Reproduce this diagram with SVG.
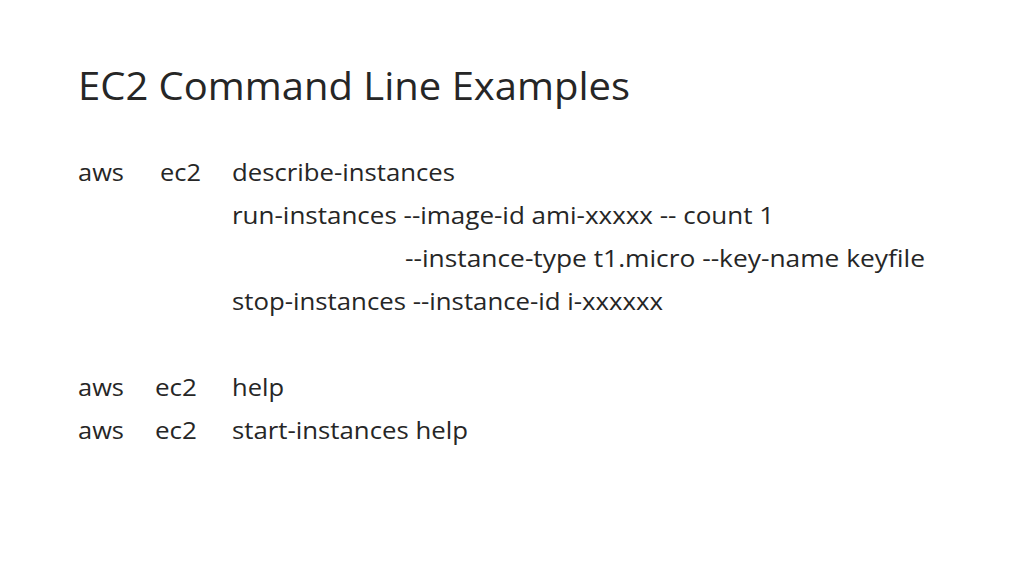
<svg xmlns="http://www.w3.org/2000/svg" width="1024" height="576" viewBox="0 0 1024 576">
<style>
text{font-family:"Open Sans","Liberation Sans",sans-serif;fill:#262626}
.t{font-size:38px}
.b{font-size:24px}
</style>
<rect width="1024" height="576" fill="#fff"/>
<text class="t" x="78" y="100" textLength="552" lengthAdjust="spacingAndGlyphs">EC2 Command Line Examples</text>
<g class="b">
<text class="b" x="78" y="181" textLength="46" lengthAdjust="spacingAndGlyphs">aws</text>
<text class="b" x="160" y="181" textLength="41" lengthAdjust="spacingAndGlyphs">ec2</text>
<text class="b" x="232" y="181" textLength="223" lengthAdjust="spacingAndGlyphs">describe-instances</text>
<text class="b" x="232" y="224" textLength="542" lengthAdjust="spacingAndGlyphs">run-instances --image-id ami-xxxxx -- count 1</text>
<text class="b" x="405" y="267" textLength="520" lengthAdjust="spacingAndGlyphs">--instance-type t1.micro --key-name keyfile</text>
<text class="b" x="232" y="310" textLength="431" lengthAdjust="spacingAndGlyphs">stop-instances --instance-id i-xxxxxx</text>
<text class="b" x="78" y="396" textLength="46" lengthAdjust="spacingAndGlyphs">aws</text>
<text class="b" x="155" y="396" textLength="42" lengthAdjust="spacingAndGlyphs">ec2</text>
<text class="b" x="232" y="396" textLength="52" lengthAdjust="spacingAndGlyphs">help</text>
<text class="b" x="78" y="439" textLength="46" lengthAdjust="spacingAndGlyphs">aws</text>
<text class="b" x="155" y="439" textLength="42" lengthAdjust="spacingAndGlyphs">ec2</text>
<text class="b" x="232" y="439" textLength="236" lengthAdjust="spacingAndGlyphs">start-instances help</text>
</g>
</svg>
